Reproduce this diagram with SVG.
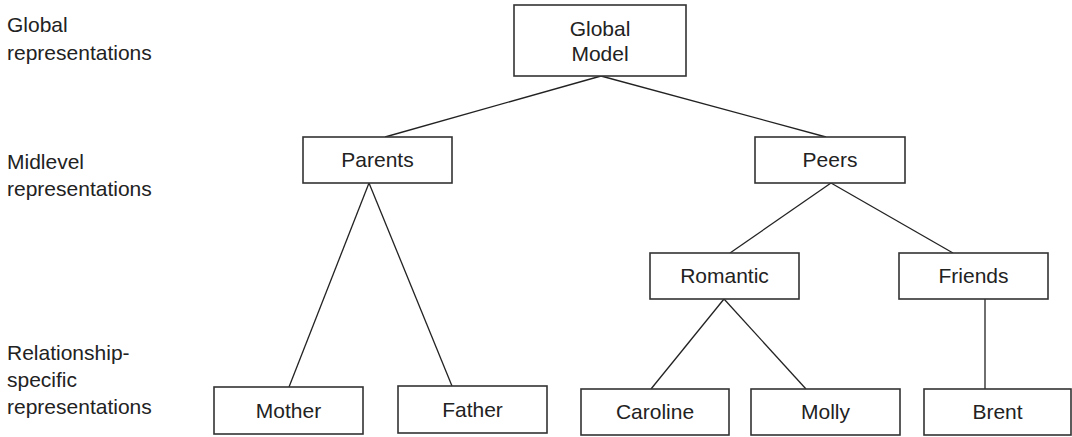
<svg xmlns="http://www.w3.org/2000/svg" width="1072" height="437" viewBox="0 0 1072 437">
<style>
text{font-family:"Liberation Sans",Arial,Helvetica,sans-serif;font-size:21px;fill:#222}
.lbl{text-anchor:start}
.nt{text-anchor:middle}
rect{fill:#fff;stroke:#333;stroke-width:1.6}
#connectors line{stroke:#222;stroke-width:1.3}
</style>
<rect x="0" y="0" width="1072" height="437" style="fill:#fff;stroke:none"/>
<g id="level-labels">
<text class="lbl" x="7" y="32">Global</text>
<text class="lbl" x="7" y="60">representations</text>
<text class="lbl" x="7" y="169">Midlevel</text>
<text class="lbl" x="7" y="196">representations</text>
<text class="lbl" x="7" y="360">Relationship-</text>
<text class="lbl" x="7" y="387">specific</text>
<text class="lbl" x="7" y="414">representations</text>
</g>
<g id="connectors">
<line x1="601" y1="76" x2="385" y2="137"/>
<line x1="601" y1="76" x2="826" y2="137"/>
<line x1="369" y1="183" x2="289" y2="387"/>
<line x1="369" y1="183" x2="452" y2="386"/>
<line x1="831" y1="183" x2="730" y2="253"/>
<line x1="831" y1="183" x2="953" y2="253"/>
<line x1="724" y1="299" x2="651" y2="389"/>
<line x1="724" y1="299" x2="806" y2="389"/>
<line x1="985" y1="299" x2="985" y2="389"/>
</g>
<g id="global-model"><rect x="514" y="5" width="172" height="71"/><text class="nt" x="600" y="36">Global</text><text class="nt" x="600" y="61">Model</text></g>
<g id="parents"><rect x="303" y="137" width="149" height="46"/><text class="nt" x="377.5" y="167">Parents</text></g>
<g id="peers"><rect x="755" y="137" width="150" height="46"/><text class="nt" x="830" y="167">Peers</text></g>
<g id="romantic"><rect x="650" y="253" width="149" height="46"/><text class="nt" x="724.5" y="283">Romantic</text></g>
<g id="friends"><rect x="899" y="253" width="149" height="46"/><text class="nt" x="973.5" y="283">Friends</text></g>
<g id="mother"><rect x="214" y="387" width="149" height="47"/><text class="nt" x="288.5" y="418">Mother</text></g>
<g id="father"><rect x="398" y="386" width="149" height="47"/><text class="nt" x="472.5" y="417">Father</text></g>
<g id="caroline"><rect x="581" y="389" width="148" height="46"/><text class="nt" x="655" y="419">Caroline</text></g>
<g id="molly"><rect x="751" y="389" width="149" height="46"/><text class="nt" x="825.5" y="419">Molly</text></g>
<g id="brent"><rect x="924" y="389" width="147" height="46"/><text class="nt" x="997.5" y="419">Brent</text></g>
</svg>
